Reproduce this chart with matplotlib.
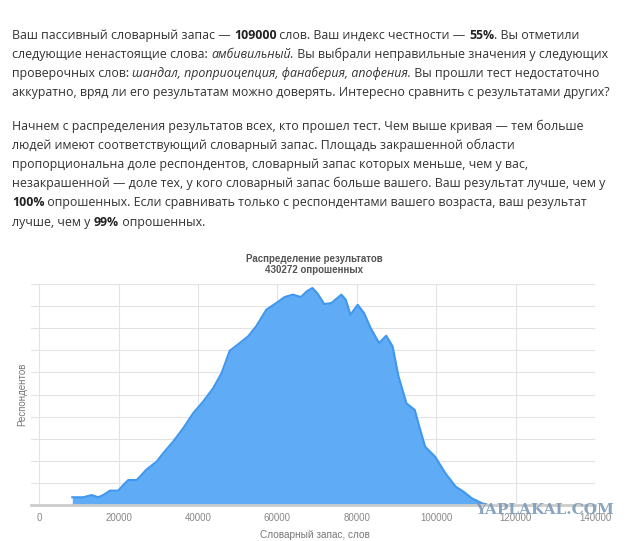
import matplotlib
matplotlib.use("Agg")
import matplotlib.pyplot as plt

# кривая распределения: словарный запас и высота (в делениях сетки)
vocab = [8300, 11070, 13180, 14840, 16100, 17790, 19870, 21130, 22390, 24500,
         25330, 27020, 29530, 31190, 33710, 36230, 38740, 41260, 43770, 45890,
         47970, 50500, 52600, 54600, 57200, 59700, 61800, 63900, 65900, 67400,
         68800, 70000, 71800, 73600, 76100, 77200, 78400, 80200, 81800, 83500,
         85600, 87400, 89000, 90500, 92500, 94600, 95600, 97200, 99700, 102300,
         104900, 106900, 109000, 111500, 113000]
resp = [0.35, 0.35, 0.45, 0.35, 0.45, 0.65, 0.65, 0.90, 1.13, 1.13,
        1.28, 1.61, 1.96, 2.34, 2.87, 3.47, 4.15, 4.68, 5.28, 5.96,
        6.98, 7.33, 7.63, 8.08, 8.84, 9.14, 9.41, 9.52, 9.41, 9.67,
        9.82, 9.59, 9.09, 9.14, 9.52, 9.29, 8.61, 9.06, 8.69, 8.00,
        7.33, 7.66, 7.18, 5.82, 4.60, 4.30, 3.63, 2.64, 2.19, 1.44,
        0.83, 0.60, 0.30, 0.08, 0.0]

xticks = [0, 20000, 40000, 60000, 80000, 100000, 120000, 140000]
xtick_labels = [str(t) for t in xticks]

title_lines = ["Распределение результатов", "430272 опрошенных"]
xlabel = "Словарный запас, слов"
ylabel = "Респондентов"
watermark = "YAPLAKAL.COM"

# текст над графиком: строки из кусков (текст, стиль) n - обычный, b - жирный, i - курсив
para1 = [
    [("Ваш пассивный словарный запас — ", "n"), ("109000", "b"),
     (" слов. Ваш индекс честности — ", "n"), ("55%", "b"), (". Вы отметили", "n")],
    [("следующие ненастоящие слова: ", "n"), ("амбивильный.", "i"),
     (" Вы выбрали неправильные значения у следующих", "n")],
    [("проверочных слов: ", "n"), ("шандал, проприоцепция, фанаберия, апофения.", "i"),
     (" Вы прошли тест недостаточно", "n")],
    [("аккуратно, вряд ли его результатам можно доверять. Интересно сравнить с результатами других?", "n")],
]
para2 = [
    [("Начнем с распределения результатов всех, кто прошел тест. Чем выше кривая — тем больше", "n")],
    [("людей имеют соответствующий словарный запас. Площадь закрашенной области", "n")],
    [("пропорциональна доле респондентов, словарный запас которых меньше, чем у вас,", "n")],
    [("незакрашенной — доле тех, у кого словарный запас больше вашего. Ваш результат лучше, чем у", "n")],
    [("100%", "b"), (" опрошенных. Если сравнивать только с респондентами вашего возраста, ваш результат", "n")],
    [("лучше, чем у ", "n"), ("99%", "b"), (" опрошенных.", "n")],
]

W, H = 640, 541
fig = plt.figure(figsize=(W / 100, H / 100), dpi=100)
fig.patch.set_facecolor("white")


def fx(px):
    return px / W


def fy(py):
    return 1 - py / H


tax = fig.add_axes([0, 0, 1, 1])
tax.axis("off")
tax.set_xlim(0, 1)
tax.set_ylim(0, 1)
renderer = fig.canvas.get_renderer()

body_font = "Open Sans"
# подгоняем размер шрифта под ширину первой строки (~565 px)
probe = tax.text(0, 0, "".join(s for s, _ in para1[0]), fontsize=10, family=body_font)
w10 = probe.get_window_extent(renderer).width
probe.remove()
body_size = 10 * 565 / w10


def draw_line(runs, x0, base):
    x = x0
    for s, st in runs:
        kw = dict(fontsize=body_size, family=body_font, color="#333333", va="baseline", ha="left")
        if st == "b":
            kw["fontweight"] = "bold"
            kw["color"] = "#222222"
        if st == "i":
            kw["style"] = "italic"
        t = tax.text(fx(x), fy(base), s, **kw)
        x += t.get_window_extent(renderer).width


for i, runs in enumerate(para1):
    draw_line(runs, 12, 39 + i * 19.1)
for i, runs in enumerate(para2):
    draw_line(runs, 12, 130 + i * 19.1)

# график
ax = fig.add_axes([fx(31), fy(505), fx(595) - fx(31), (505 - 284) / H])
ax.fill_between(vocab, resp, 0, color="#5fabf6", lw=0, zorder=2)
ax.plot(vocab, resp, color="#3f97ee", lw=1.5, zorder=3, solid_joinstyle="round")
ax.set_xlim(-2100, 140000)
ax.set_ylim(0, 10)
ax.set_xticks(xticks)
ax.set_xticklabels(xtick_labels, family="Liberation Sans", fontsize=7, color="#888888")
ax.set_yticks(range(11))
ax.set_yticklabels([])
ax.tick_params(length=0, pad=6)
ax.grid(color="#e3e3e3", lw=0.8, zorder=0)
for sp in ax.spines.values():
    sp.set_visible(False)
ax.axhline(0, color="#cccccc", lw=2, zorder=4, clip_on=False)

fig.text(fx(314), fy(259), title_lines[0], ha="center", va="center",
         family="Liberation Sans", fontweight="bold", fontsize=7, color="#555555")
fig.text(fx(314), fy(270), title_lines[1], ha="center", va="center",
         family="Liberation Sans", fontweight="bold", fontsize=7, color="#555555")
fig.text(fx(315), fy(535), xlabel, ha="center", va="center",
         family="Liberation Sans", fontsize=7.2, color="#777777")
fig.text(fx(22), fy(394), ylabel, ha="center", va="center", rotation=90,
         family="Liberation Sans", fontsize=7, color="#777777")

# водяной знак поверх подписей оси, как на исходной картинке
fig.text(fx(545), fy(510), watermark, ha="center", va="center",
         family="DejaVu Serif", fontweight="bold", fontsize=11, color="#7d9ab8", alpha=0.9)

fig.savefig("out.png", dpi=100)
